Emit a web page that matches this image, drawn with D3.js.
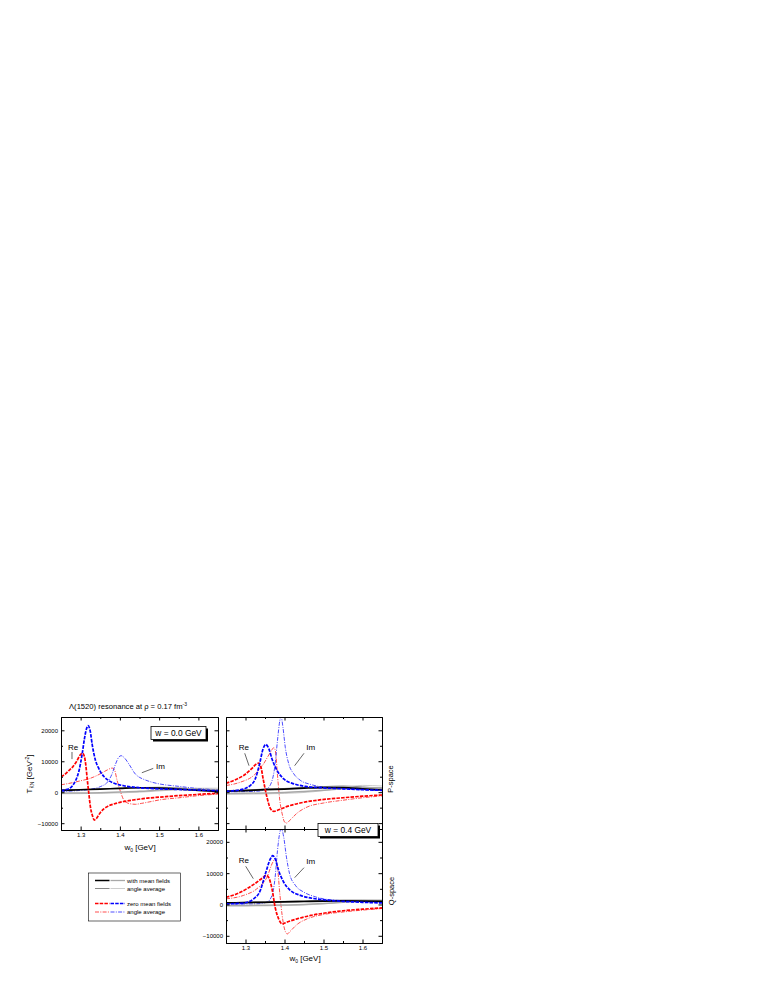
<!DOCTYPE html>
<html>
<head>
<meta charset="utf-8">
<script src="https://cdn.jsdelivr.net/npm/d3@7"></script>
<style>
  body { margin: 0; background: #fff; }
  svg text { font-family: "Liberation Sans", Arial, sans-serif; fill: #000; }
</style>
</head>
<body>
<svg id="chart" width="763" height="987"></svg>
<script>
// ---- data: [w0 (GeV), T (GeV^-2)] ----
// panel A: w = 0.0 GeV (left)
const aReZero = [[1.25,5000],[1.26,5800],[1.27,7000],[1.28,8200],[1.29,10000],[1.30,12200],[1.305,12600],[1.309,11800],[1.313,9000],[1.317,4000],[1.321,-500],[1.325,-4800],[1.33,-7500],[1.335,-9000],[1.34,-8500],[1.35,-6600],[1.36,-5300],[1.37,-4500],[1.39,-3600],[1.41,-3000],[1.44,-2400],[1.47,-1900],[1.5,-1600],[1.55,-1100],[1.6,-700],[1.65,-300]];
const aImZero = [[1.25,500],[1.26,750],[1.27,1100],[1.28,2200],[1.287,3700],[1.296,7000],[1.304,12400],[1.31,17500],[1.315,20500],[1.319,21500],[1.324,20000],[1.33,15000],[1.338,10200],[1.345,8000],[1.351,6500],[1.36,5000],[1.37,3900],[1.39,2700],[1.41,2100],[1.45,1450],[1.5,1100],[1.55,900],[1.6,700],[1.65,500]];
const aReAvg = [[1.25,2400],[1.28,3100],[1.3,3700],[1.32,4300],[1.34,5300],[1.355,6300],[1.368,7200],[1.38,7800],[1.386,7300],[1.393,3800],[1.402,0],[1.41,-2500],[1.42,-3500],[1.43,-3800],[1.44,-3900],[1.455,-3600],[1.48,-3000],[1.5,-2500],[1.55,-1800],[1.6,-1100],[1.65,-600]];
const aImAvg = [[1.25,200],[1.29,500],[1.325,950],[1.35,1800],[1.368,3200],[1.38,5900],[1.389,9100],[1.397,11300],[1.403,11800],[1.41,11300],[1.423,9100],[1.44,5800],[1.45,4800],[1.46,4200],[1.48,3300],[1.5,2700],[1.55,1900],[1.6,1200],[1.65,800]];
const aReMf = [[1.25,600],[1.3,800],[1.35,1000],[1.4,1250],[1.45,1450],[1.5,1350],[1.55,1000],[1.6,600],[1.65,250]];
const aImMf = [[1.25,-300],[1.3,-250],[1.35,-150],[1.4,50],[1.45,300],[1.5,700],[1.55,1000],[1.6,1000],[1.65,800]];
const aReMfAvg = [[1.25,700],[1.3,900],[1.35,1100],[1.4,1300],[1.45,1500],[1.5,1600],[1.55,1400],[1.6,1000],[1.65,600]];
const aImMfAvg = [[1.25,-500],[1.3,-450],[1.35,-350],[1.4,-200],[1.45,0],[1.5,400],[1.55,900],[1.6,1300],[1.65,1300]];

// panel B: P-space (upper right)
const bReZero = [[1.25,2900],[1.27,3800],[1.295,5400],[1.315,7500],[1.328,9100],[1.334,9400],[1.339,8400],[1.346,3800],[1.355,-1600],[1.364,-5300],[1.373,-6200],[1.385,-5700],[1.407,-4600],[1.44,-3500],[1.49,-2500],[1.55,-1800],[1.6,-1300],[1.65,-900]];
const bImZero = [[1.25,300],[1.286,750],[1.312,2150],[1.325,4300],[1.336,9100],[1.345,14000],[1.352,15400],[1.36,14000],[1.368,10700],[1.381,7000],[1.398,4300],[1.424,2700],[1.458,1800],[1.5,1400],[1.55,1100],[1.6,800],[1.65,600]];
const bReAvg = [[1.25,2150],[1.286,3200],[1.321,5400],[1.346,9100],[1.364,12900],[1.373,14400],[1.377,13000],[1.382,5500],[1.388,-2700],[1.394,-7000],[1.4,-9600],[1.405,-10000],[1.415,-8900],[1.432,-6800],[1.458,-4800],[1.5,-3500],[1.55,-2600],[1.6,-1800],[1.65,-1200]];
const bImAvg = [[1.25,100],[1.33,300],[1.355,1100],[1.368,3700],[1.376,9100],[1.382,16700],[1.388,23100],[1.391,24500],[1.396,21000],[1.402,14500],[1.411,9100],[1.424,5900],[1.441,3800],[1.467,2500],[1.5,1600],[1.55,1100],[1.6,800],[1.65,600]];
const bReMf = [[1.25,300],[1.3,500],[1.35,800],[1.4,1000],[1.45,1300],[1.5,1500],[1.55,1500],[1.6,1100],[1.65,700]];
const bImMf = [[1.25,-400],[1.3,-350],[1.35,-250],[1.4,-100],[1.45,200],[1.5,600],[1.55,1100],[1.6,1500],[1.65,1400]];
const bReMfAvg = [[1.25,500],[1.3,700],[1.35,1000],[1.4,1200],[1.45,1500],[1.5,1800],[1.55,2000],[1.6,1700],[1.65,1200]];
const bImMfAvg = [[1.25,-700],[1.3,-650],[1.35,-550],[1.4,-400],[1.45,-100],[1.5,500],[1.55,1400],[1.6,2200],[1.65,2000]];

// panel C: Q-space (lower right), w = 0.4 GeV
const cReZero = [[1.25,2300],[1.278,3400],[1.303,5000],[1.329,7100],[1.346,8700],[1.353,9300],[1.359,8700],[1.368,5000],[1.376,-900],[1.385,-4600],[1.394,-6200],[1.407,-5600],[1.432,-4600],[1.467,-3500],[1.5,-2800],[1.55,-2000],[1.6,-1500],[1.65,-1100]];
const cImZero = [[1.25,200],[1.295,450],[1.321,1800],[1.338,4500],[1.351,9800],[1.364,14600],[1.37,15600],[1.376,14600],[1.385,10800],[1.398,7100],[1.415,4500],[1.441,2900],[1.475,1900],[1.5,1500],[1.55,1000],[1.6,700],[1.65,500]];
const cReAvg = [[1.25,1800],[1.295,2900],[1.329,5000],[1.355,8700],[1.37,13500],[1.376,14600],[1.382,11900],[1.388,3400],[1.394,-3500],[1.4,-7800],[1.407,-9400],[1.415,-8500],[1.432,-6400],[1.458,-4600],[1.5,-3200],[1.55,-2400],[1.6,-1800],[1.65,-1300]];
const cImAvg = [[1.25,100],[1.329,200],[1.355,750],[1.368,2900],[1.376,8700],[1.382,17200],[1.388,23000],[1.392,24200],[1.398,21500],[1.405,15100],[1.413,9800],[1.428,6100],[1.45,3900],[1.475,2600],[1.5,1800],[1.55,1200],[1.6,900],[1.65,700]];
const cReMf = [[1.25,500],[1.3,600],[1.35,700],[1.4,800],[1.45,950],[1.5,1100],[1.55,1150],[1.6,1100],[1.65,1000]];
const cImMf = [[1.25,-300],[1.3,-300],[1.35,-250],[1.4,-150],[1.45,0],[1.5,300],[1.55,700],[1.6,1000],[1.65,1100]];
const cReMfAvg = [[1.25,600],[1.3,700],[1.35,850],[1.4,1000],[1.45,1150],[1.5,1300],[1.55,1400],[1.6,1400],[1.65,1300]];
const cImMfAvg = [[1.25,-500],[1.3,-500],[1.35,-450],[1.4,-350],[1.45,-150],[1.5,200],[1.55,800],[1.6,1300],[1.65,1500]];

const xTicks = [1.3, 1.4, 1.5, 1.6];
const xMinor = [1.35, 1.45, 1.55];
const yTicks = [-10000, 0, 10000, 20000];
const yMinor = [-5000, 5000, 15000];
const legendRows = ["with mean fields", "angle average", "zero mean fields", "angle average"];

// ---- styles ----
const styles = {
  reZero:   { color: "#ff0000", w: 1.7, dash: "3.5,1.2" },
  imZero:   { color: "#0000ff", w: 1.7, dash: "3.5,1.2" },
  reAvg:    { color: "#ff0000", w: 0.7, dash: "4,1.3,1,1.3" },
  imAvg:    { color: "#0000ff", w: 0.7, dash: "4,1.3,1,1.3" },
  reMf:     { color: "#000000", w: 1.7, dash: null },
  imMf:     { color: "#a8a8a8", w: 1.5, dash: null },
  reMfAvg:  { color: "#555555", w: 0.7, dash: null },
  imMfAvg:  { color: "#b8b8b8", w: 0.7, dash: null }
};

const svg = d3.select("#chart");
const xDom = [1.25, 1.65];

const panels = [
  { id: "A", x: [61, 218], y: [830, 717], yDom: [-12200, 24300], xLabels: true, yLabels: true,
    series: { reMfAvg: aReMfAvg, imMfAvg: aImMfAvg, reAvg: aReAvg, imAvg: aImAvg, imMf: aImMf, reMf: aReMf, reZero: aReZero, imZero: aImZero } },
  { id: "B", x: [226, 382], y: [829, 717], yDom: [-11900, 24300], xLabels: false, yLabels: false,
    series: { reMfAvg: bReMfAvg, imMfAvg: bImMfAvg, reAvg: bReAvg, imAvg: bImAvg, imMf: bImMf, reMf: bReMf, reZero: bReZero, imZero: bImZero } },
  { id: "C", x: [226, 382], y: [943, 829], yDom: [-12300, 24100], xLabels: true, yLabels: true,
    series: { reMfAvg: cReMfAvg, imMfAvg: cImMfAvg, reAvg: cReAvg, imAvg: cImAvg, imMf: cImMf, reMf: cReMf, reZero: cReZero, imZero: cImZero } }
];

panels.forEach(p => {
  p.xs = d3.scaleLinear().domain(xDom).range(p.x);
  p.ys = d3.scaleLinear().domain(p.yDom).range(p.y);
  const g = svg.append("g");

  svg.append("clipPath").attr("id", "clip" + p.id)
    .append("rect").attr("x", p.x[0]).attr("y", p.y[1])
    .attr("width", p.x[1] - p.x[0]).attr("height", p.y[0] - p.y[1]);

  const line = d3.line().x(d => p.xs(d[0])).y(d => p.ys(d[1])).curve(d3.curveMonotoneX);
  const plot = g.append("g").attr("clip-path", `url(#clip${p.id})`);
  Object.entries(p.series).forEach(([k, data]) => {
    const s = styles[k];
    plot.append("path").datum(data)
      .attr("d", line)
      .attr("fill", "none")
      .attr("stroke", s.color)
      .attr("stroke-width", s.w)
      .attr("stroke-dasharray", s.dash);
  });

  // axes, ticks inward on all four sides
  const bottom = d3.axisBottom(p.xs).tickValues(xTicks).tickSize(-3.5).tickPadding(2.5)
    .tickFormat(p.xLabels ? d3.format(".1f") : "");
  const top = d3.axisTop(p.xs).tickValues(xTicks).tickSize(-3.5).tickFormat("");
  const left = d3.axisLeft(p.ys).tickValues(yTicks).tickSize(-3.5).tickPadding(3)
    .tickFormat(p.yLabels ? d3.format("d") : "");
  const right = d3.axisRight(p.ys).tickValues(yTicks).tickSize(-3.5).tickFormat("");

  const addAxis = (ax, tr, minorAx) => {
    const a = g.append("g").attr("transform", tr).call(ax);
    a.select(".domain").attr("stroke-width", 1);
    a.selectAll("text").style("font-size", "6px").style("font-family", "Liberation Sans, Arial, sans-serif");
    g.append("g").attr("transform", tr).call(minorAx).call(m => m.select(".domain").remove());
  };
  addAxis(bottom, `translate(0,${p.y[0]})`, d3.axisBottom(p.xs).tickValues(xMinor).tickSize(-2).tickFormat(""));
  addAxis(top, `translate(0,${p.y[1]})`, d3.axisTop(p.xs).tickValues(xMinor).tickSize(-2).tickFormat(""));
  addAxis(left, `translate(${p.x[0]},0)`, d3.axisLeft(p.ys).tickValues(yMinor).tickSize(-2).tickFormat(""));
  addAxis(right, `translate(${p.x[1]},0)`, d3.axisRight(p.ys).tickValues(yMinor).tickSize(-2).tickFormat(""));
});

const [A, B, C] = panels;

// title
svg.append("text").attr("x", 128).attr("y", 708.5).attr("text-anchor", "middle")
  .style("font-size", "7.6px")
  .call(t => {
    t.append("tspan").text("\u039B(1520) resonance at \u03C1 = 0.17 fm");
    t.append("tspan").attr("dy", -3).style("font-size", "5px").text("-3");
  });

// axis titles
function xTitle(px, py) {
  svg.append("text").attr("x", px).attr("y", py).attr("text-anchor", "middle")
    .style("font-size", "8px")
    .call(t => {
      t.append("tspan").text("w");
      t.append("tspan").attr("dy", 2).style("font-size", "5px").text("0");
      t.append("tspan").attr("dy", -2).text(" [GeV]");
    });
}
xTitle(140, 850);
xTitle(305, 961);

svg.append("text").attr("transform", "translate(32,774) rotate(-90)").attr("text-anchor", "middle")
  .style("font-size", "8px")
  .call(t => {
    t.append("tspan").text("T");
    t.append("tspan").attr("dy", 2).style("font-size", "5px").text("K\u0304N");
    t.append("tspan").attr("dy", -2).text(" [GeV");
    t.append("tspan").attr("dy", -3).style("font-size", "5px").text("-2");
    t.append("tspan").attr("dy", 3).text("]");
  });

svg.append("text").attr("transform", "translate(393,779) rotate(-90)").attr("text-anchor", "middle")
  .style("font-size", "7.5px").text("P-space");
svg.append("text").attr("transform", "translate(394,891) rotate(-90)").attr("text-anchor", "middle")
  .style("font-size", "7.5px").text("Q-space");

// framed labels with shadow
function tagBox(x0, y0, w, h, label) {
  svg.append("rect").attr("x", x0 + 2).attr("y", y0 + 2).attr("width", w).attr("height", h).attr("fill", "#000");
  svg.append("rect").attr("x", x0).attr("y", y0).attr("width", w).attr("height", h)
    .attr("fill", "#fff").attr("stroke", "#000").attr("stroke-width", 0.8);
  svg.append("text").attr("x", x0 + w / 2).attr("y", y0 + h / 2 + 3).attr("text-anchor", "middle")
    .style("font-size", "8.4px").text(label);
}
tagBox(151, 726.5, 55, 13, "w = 0.0 GeV");
tagBox(318, 823.5, 60, 13, "w = 0.4 GeV");

// Re / Im annotations, placed in data coordinates
function note(p, label, tx, ty, l1, l2) {
  svg.append("text").attr("x", p.xs(tx)).attr("y", p.ys(ty)).attr("text-anchor", "middle")
    .style("font-size", "8px").text(label);
  svg.append("line")
    .attr("x1", p.xs(l1[0])).attr("y1", p.ys(l1[1]))
    .attr("x2", p.xs(l2[0])).attr("y2", p.ys(l2[1]))
    .attr("stroke", "#000").attr("stroke-width", 0.6);
}
note(A, "Re", 1.2806, 13800, [1.278, 13000], [1.278, 10700]);
note(A, "Im", 1.5035, 7400, [1.485, 7700], [1.456, 6300]);
note(B, "Re", 1.296, 13480, [1.298, 12570], [1.309, 8560]);
note(B, "Im", 1.467, 13480, [1.45, 12570], [1.426, 8560]);
note(C, "Re", 1.296, 13090, [1.3005, 12200], [1.32, 8240]);
note(C, "Im", 1.467, 12930, [1.45, 11750], [1.426, 8560]);

// legend
const lg = svg.append("g");
lg.append("rect").attr("x", 88.5).attr("y", 873).attr("width", 92).attr("height", 48)
  .attr("fill", "#fff").attr("stroke", "#000").attr("stroke-width", 0.6);
const legendY = [880.5, 888.5, 903.5, 912];
const legendPairs = [["reMf", "imMf"], ["reMfAvg", "imMfAvg"], ["reZero", "imZero"], ["reAvg", "imAvg"]];
legendPairs.forEach((pair, i) => {
  pair.forEach((k, j) => {
    const s = styles[k];
    lg.append("line").attr("x1", 95 + j * 15.5).attr("x2", 109.5 + j * 15.5)
      .attr("y1", legendY[i]).attr("y2", legendY[i])
      .attr("stroke", s.color).attr("stroke-width", k === "reMf" ? 1.5 : (s.w > 1 ? 1.3 : s.w))
      .attr("stroke-dasharray", s.dash);
  });
  lg.append("text").attr("x", 127).attr("y", legendY[i] + 2).style("font-size", "6px").text(legendRows[i]);
});
</script>
</body>
</html>
